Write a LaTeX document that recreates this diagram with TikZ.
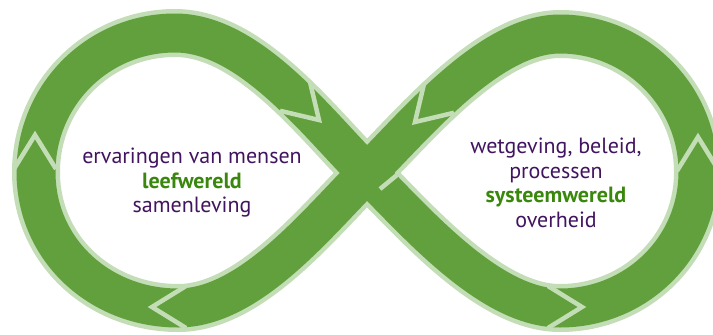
\documentclass[tikz,border=0pt]{standalone}
\usepackage{fontspec}
\setmainfont{PT Sans}
\definecolor{band}{HTML}{62A03D}
\definecolor{rim}{HTML}{C3DDB6}
\definecolor{paars}{HTML}{42145F}
\definecolor{groen}{HTML}{39870C}
\tikzset{
  rimline/.style={draw=rim, line width=48pt, line join=round},
  bandline/.style={draw=band, line width=39pt, line join=round},
  seam/.style={draw=rim, line width=4.5pt, line join=miter},
  world/.style={align=center, inner sep=0pt, text=paars,
    font=\fontsize{22}{24.5}\selectfont},
}
% centre line of the infinity band
\newcommand{\lusPad}{(367,173)
  .. controls (417,123) and (490,34) .. (560,34)
  .. controls (636,34) and (698,96) .. (698,172)
  .. controls (698,248) and (636,308) .. (560,308)
  .. controls (490,308) and (417,223) .. (367,173)
  .. controls (317,123) and (250,33) .. (175,33)
  .. controls (98,33) and (36,95) .. (36,172)
  .. controls (36,250) and (100,308) .. (178,308)
  .. controls (250,308) and (317,223) .. cycle}

\begin{document}
\begin{tikzpicture}[x=1pt, y=-1pt]
  \useasboundingbox (0,0) rectangle (713,335);

  % the band: light rim first, green on top
  \draw[rimline] \lusPad;
  \draw[bandline] \lusPad;

  % arrow heads where one piece ends and the next one starts
  \foreach \tx/\ty/\dir in {35/135/90, 319/120/-45, 582/307/0,
                            698/137/90, 415/122/-135, 152/307/180}
    \draw[seam, shift={(\tx,\ty)}, rotate=\dir] (-34,21) -- (0,0) -- (-34,-21);

  % bit of edge in the crossing
  \draw[seam] (397,175) -- (380,189);

  \node[world] (leef) at (192,183)
    {ervaringen van mensen\\{\bfseries\color{groen}leefwereld}\\samenleving};
  \node[world] (systeem) at (556,183)
    {wetgeving, beleid,\\processen\\{\bfseries\color{groen}systeemwereld}\\overheid};
\end{tikzpicture}
\end{document}
